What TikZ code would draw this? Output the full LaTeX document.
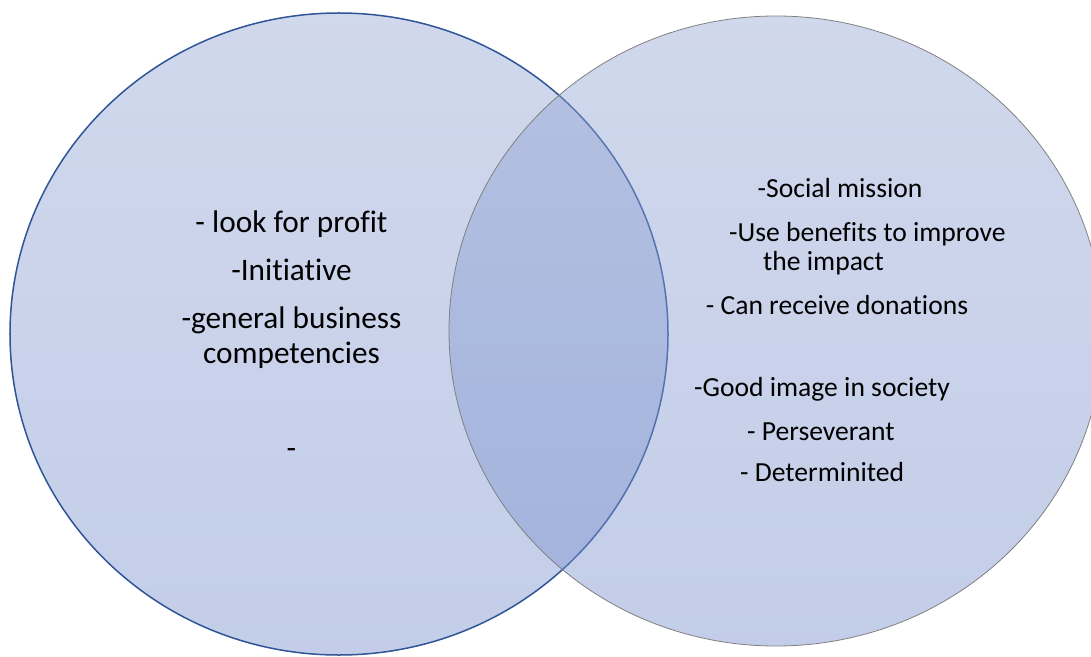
\documentclass[tikz,border=0pt]{standalone}
\usepackage{fontspec}
\setmainfont[Ligatures={CommonOff}]{Carlito}
\usetikzlibrary{shapes.geometric}
\definecolor{circtop}{RGB}{148,166,212}
\definecolor{circbot}{RGB}{118,142,204}
\definecolor{leftline}{RGB}{47,85,151}
\definecolor{rightline}{RGB}{128,128,128}
\tikzset{
  vcircle/.style={ellipse, inner sep=0pt, top color=circtop, bottom color=circbot, fill opacity=0.44, draw opacity=1},
  lefttxt/.style={anchor=base, inner sep=0pt, font=\fontsize{31.4}{34}\selectfont, text=black},
  righttxt/.style={anchor=base west, inner sep=0pt, font=\fontsize{27.7}{30}\selectfont, text=black}
}
\begin{document}
\begin{tikzpicture}[x=1bp, y=-1bp]
\useasboundingbox (0,0) rectangle (1091,657);
\clip (0,0) rectangle (1091,657);
\node[vcircle, draw=leftline, line width=1.5bp, minimum width=658bp, minimum height=642bp] (leftset) at (339,334) {};
\node[vcircle, draw=rightline, line width=0.8bp, minimum width=654bp, minimum height=630bp] (rightset) at (776,331) {};
% left texts
\node[lefttxt] (l1) at (291.5,232.5) {- look for profit};
\node[lefttxt] (l2) at (291.5,280) {-Initiative};
\node[lefttxt] (l3) at (291.5,328) {-general business};
\node[lefttxt] (l4) at (291.5,363) {competencies};
\node[lefttxt] (l5) at (291.5,458) {-};
% right texts
\node[righttxt] (r1) at (757.5,197.7) {-Social mission};
\node[righttxt] (r2) at (729,241.7) {-Use benefits to improve};
\node[righttxt] (r3) at (763,270) {the impact};
\node[righttxt] (r4) at (705.7,314) {- Can receive donations};
\node[righttxt] (r5) at (694,396) {-Good image in society};
\node[righttxt] (r6) at (747,440.7) {- Perseverant};
\node[righttxt] (r7) at (740,481.8) {- Determinited};
\end{tikzpicture}
\end{document}
